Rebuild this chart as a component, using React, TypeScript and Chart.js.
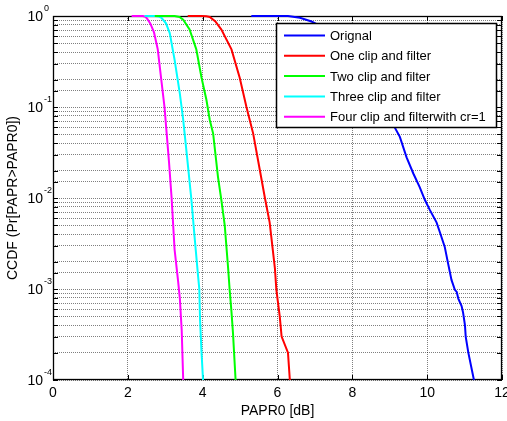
import React, { useEffect, useRef } from 'react';
import { Chart, registerables } from 'chart.js';

Chart.register(...registerables);

// ---------- data ----------
const seriesLabels = [
  'Orignal',
  'One clip and filter',
  'Two clip and filter',
  'Three clip and filter',
  'Four clip and filterwith cr=1',
];
const seriesColors = ['#0000ff', '#ff0000', '#00ff00', '#00ffff', '#ff00ff'];

const origX = [5.3, 6.28, 6.6, 6.91, 7.3, 7.7, 8.1, 8.5, 8.85, 9.14, 9.27, 9.45, 9.63, 9.8, 9.94, 10.07, 10.25, 10.34, 10.47, 10.56, 10.65, 10.74, 10.79, 10.83, 10.92, 10.96, 11.01, 11.03, 11.1, 11.25];
const origY = [1, 1, 0.955, 0.87, 0.72, 0.55, 0.38, 0.24, 0.126, 0.059, 0.047, 0.028, 0.0186, 0.0132, 0.0095, 0.0074, 0.0054, 0.0042, 0.0029, 0.0019, 0.00126, 0.00098, 0.00093, 0.00079, 0.00065, 0.00055, 0.0004, 0.0003, 0.0002, 0.0001];

const oneX = [3.6, 3.97, 4.1, 4.19, 4.34, 4.5, 4.77, 4.99, 5.17, 5.35, 5.48, 5.66, 5.79, 5.93, 5.97, 6.06, 6.11, 6.28, 6.33];
const oneY = [1, 1, 0.995, 0.977, 0.87, 0.71, 0.43, 0.21, 0.1, 0.051, 0.026, 0.0102, 0.0054, 0.0017, 0.00098, 0.0005, 0.0003, 0.0002, 0.0001];

const twoX = [2.72, 3.25, 3.38, 3.48, 3.65, 3.83, 3.97, 4.1, 4.19, 4.28, 4.41, 4.5, 4.59, 4.68, 4.72, 4.77, 4.81, 4.88];
const twoY = [1, 1, 0.975, 0.91, 0.71, 0.43, 0.21, 0.12, 0.072, 0.051, 0.017, 0.0095, 0.005, 0.0017, 0.001, 0.00056, 0.00033, 0.0001];

const threeX = [2.45, 2.72, 2.82, 2.9, 3.02, 3.12, 3.25, 3.39, 3.48, 3.61, 3.7, 3.79, 3.88, 3.91, 3.93, 3.97, 4.01];
const threeY = [1, 1, 0.99, 0.955, 0.83, 0.65, 0.33, 0.14, 0.072, 0.022, 0.0095, 0.0035, 0.00135, 0.001, 0.00046, 0.0002, 0.0001];

const fourX = [2.1, 2.4, 2.47, 2.52, 2.6, 2.7, 2.8, 2.9, 2.98, 3.04, 3.1, 3.17, 3.25, 3.34, 3.39, 3.44, 3.48];
const fourY = [1, 1, 0.98, 0.93, 0.83, 0.66, 0.43, 0.19, 0.1, 0.05, 0.025, 0.01, 0.0027, 0.00126, 0.00079, 0.00035, 0.0001];

const xTicks = [0, 2, 4, 6, 8, 10, 12];
const yDecades = [1e-4, 1e-3, 1e-2, 1e-1, 1];
const yExponents = ['-4', '-3', '-2', '-1', '0'];
const xTitle = 'PAPR0 [dB]';
const yTitle = 'CCDF (Pr[PAPR>PAPR0])';

const seriesX = [origX, oneX, twoX, threeX, fourX];
const seriesY = [origY, oneY, twoY, threeY, fourY];

const FONT = '"Liberation Sans", Arial, Helvetica, sans-serif';

const decorPlugin = {
  id: 'decor',
  beforeDatasetsDraw(chart: any) {
    const { ctx, chartArea: a, scales } = chart;
    const xs = scales.x;
    const ys = scales.y;
    ctx.save();
    ctx.strokeStyle = '#000';
    ctx.lineWidth = 1;
    ctx.setLineDash([]);
    ctx.beginPath();
    xTicks.forEach((v) => {
      const px = Math.round(xs.getPixelForValue(v)) + 0.5;
      ctx.moveTo(px, a.bottom);
      ctx.lineTo(px, a.bottom - 5);
      ctx.moveTo(px, a.top);
      ctx.lineTo(px, a.top + 5);
    });
    ys.ticks.forEach((t: any) => {
      const py = Math.round(ys.getPixelForValue(t.value)) + 0.5;
      ctx.moveTo(a.left, py);
      ctx.lineTo(a.left + 5, py);
      ctx.moveTo(a.right, py);
      ctx.lineTo(a.right - 5, py);
    });
    ctx.stroke();
    ctx.lineWidth = 1.3;
    ctx.strokeRect(a.left + 0.5, a.top + 0.5, a.right - a.left - 1, a.bottom - a.top - 1);
    ctx.restore();
  },
  afterDatasetsDraw(chart: any) {
    const { ctx, chartArea: a, scales } = chart;
    const xs = scales.x;
    const ys = scales.y;
    ctx.save();

    // x tick labels
    ctx.fillStyle = '#000';
    ctx.font = `14px ${FONT}`;
    ctx.textAlign = 'center';
    ctx.textBaseline = 'middle';
    xTicks.forEach((v) => {
      ctx.fillText(String(v), xs.getPixelForValue(v), a.bottom + 13);
    });

    // y tick labels 10^n
    yDecades.forEach((v, i) => {
      const py = ys.getPixelForValue(v);
      ctx.font = `14px ${FONT}`;
      ctx.textAlign = 'right';
      ctx.textBaseline = 'middle';
      ctx.fillText('10', a.left - 10, py + 1);
      ctx.font = `9px ${FONT}`;
      ctx.textAlign = 'left';
      ctx.fillText(yExponents[i], a.left - 9, py - 7);
    });

    // axis titles
    ctx.font = `14px ${FONT}`;
    ctx.textAlign = 'center';
    ctx.textBaseline = 'middle';
    ctx.fillText(xTitle, (a.left + a.right) / 2, a.bottom + 31);
    ctx.save();
    ctx.translate(13, (a.top + a.bottom) / 2);
    ctx.rotate(-Math.PI / 2);
    ctx.fillText(yTitle, 0, 0);
    ctx.restore();

    // legend
    const bx = a.right - 226;
    const by = a.top + 7;
    const bw = 220;
    const bh = 104;
    ctx.fillStyle = '#fff';
    ctx.fillRect(bx, by, bw, bh);
    ctx.strokeStyle = '#000';
    ctx.lineWidth = 1.5;
    ctx.strokeRect(bx + 0.5, by + 0.5, bw, bh);
    ctx.font = `13px ${FONT}`;
    ctx.textAlign = 'left';
    ctx.textBaseline = 'middle';
    chart.data.datasets.forEach((ds: any, i: number) => {
      const ry = by + 12.5 + i * 20.3;
      ctx.strokeStyle = ds.borderColor;
      ctx.lineWidth = 2;
      ctx.beginPath();
      ctx.moveTo(bx + 8, ry);
      ctx.lineTo(bx + 49, ry);
      ctx.stroke();
      ctx.fillStyle = '#000';
      ctx.fillText(ds.label, bx + 54, ry + 1);
    });

    ctx.restore();
  },
};

export default function App() {
  const canvasRef = useRef<HTMLCanvasElement | null>(null);

  useEffect(() => {
    document.body.style.margin = '0';
    const canvas = canvasRef.current;
    if (!canvas) return;
    const datasets = seriesLabels.map((label, i) => ({
      label,
      data: seriesX[i].map((x, j) => ({ x, y: seriesY[i][j] })),
      borderColor: seriesColors[i],
      backgroundColor: seriesColors[i],
      borderWidth: 2,
      pointRadius: 0,
      tension: 0,
      fill: false,
      clip: 3,
    }));
    const gridStyle = {
      color: 'rgba(0,0,0,0.5)',
      lineWidth: 1,
      drawTicks: false,
    };
    const chart = new Chart(canvas, {
      type: 'line',
      data: { datasets },
      options: {
        animation: false,
        responsive: false,
        devicePixelRatio: 1,
        layout: { padding: { top: 16, right: 5, left: 0, bottom: 0 } },
        plugins: { legend: { display: false }, tooltip: { enabled: false } },
        scales: {
          x: {
            type: 'linear',
            min: 0,
            max: 12,
            ticks: { display: false, stepSize: 2 },
            grid: gridStyle,
            border: { display: false, dash: [1, 1] },
            afterFit: (s: any) => {
              s.height = 41;
            },
          },
          y: {
            type: 'logarithmic',
            min: 1e-4,
            max: 1,
            ticks: { display: false, autoSkip: false },
            grid: gridStyle,
            border: { display: false, dash: [1, 1] },
            afterFit: (s: any) => {
              s.width = 53;
            },
          },
        },
      },
      plugins: [decorPlugin],
    } as any);
    return () => chart.destroy();
  }, []);

  return (
    <div style={{ position: 'absolute', left: 0, top: 0, width: 507, height: 421 }}>
      <canvas ref={canvasRef} width={507} height={421} />
    </div>
  );
}
